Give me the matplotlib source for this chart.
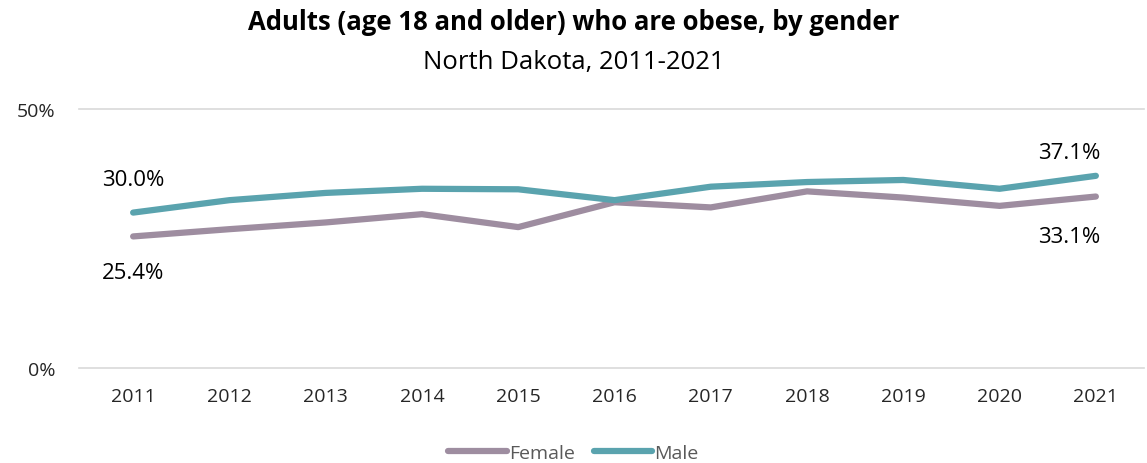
import matplotlib.pyplot as plt

years = ['2011', '2012', '2013', '2014', '2015', '2016', '2017', '2018', '2019', '2020', '2021']
female = [25.4, 26.8, 28.1, 29.7, 27.2, 32.0, 31.0, 34.1, 32.9, 31.3, 33.1]
male = [30.0, 32.4, 33.8, 34.6, 34.5, 32.4, 35.0, 35.9, 36.3, 34.6, 37.1]

col_f = '#9E8DA0'
col_m = '#5AA3AE'

plt.rcParams['font.family'] = ['Open Sans', 'DejaVu Sans']

fig = plt.figure(figsize=(11.47, 4.64), dpi=100)
ax = fig.add_axes([85 / 1147, 1 - 369 / 464, (1144 - 85) / 1147, (369 - 110) / 464])

x = list(range(len(years)))
ax.plot(x, female, color=col_f, lw=4.5, solid_capstyle='round', label='Female')
ax.plot(x, male, color=col_m, lw=4.5, solid_capstyle='round', label='Male')

ax.set_xlim(-0.5, len(years) - 0.5)
ax.set_ylim(0, 50)
ax.set_yticks([0, 50])
ax.set_yticklabels(['0%', '50%'])
ax.set_xticks(x)
ax.set_xticklabels(years)
ax.tick_params(length=0, labelsize=14, colors='#262626')
ax.tick_params(axis='x', pad=14)
ax.tick_params(axis='y', pad=21)
# gridlines a bit wider than the plot area, like the original
for v in [0, 50]:
    ax.axhline(v, xmin=-0.006, xmax=1.0, color='#D9D9D9', lw=1.2, clip_on=False, zorder=0)
for s in ax.spines.values():
    s.set_visible(False)

# data labels for first and last year
lbl = dict(textcoords='offset points', ha='center', va='center', fontsize=16)
ax.annotate(f'{male[0]:.1f}%', (0, male[0]), xytext=(0, 24), **lbl)
ax.annotate(f'{female[0]:.1f}%', (0, female[0]), xytext=(0, -26), **lbl)
ax.annotate(f'{male[-1]:.1f}%', (10, male[-1]), xytext=(-19, 17), **lbl)
ax.annotate(f'{female[-1]:.1f}%', (10, female[-1]), xytext=(-19, -29), **lbl)

fig.text(0.5, 1 - 22 / 464, 'Adults (age 18 and older) who are obese, by gender',
         ha='center', va='center', fontsize=18.5, fontweight='bold')
fig.text(0.5, 1 - 62 / 464, 'North Dakota, 2011-2021', ha='center', va='center', fontsize=18.5)

leg = fig.legend(loc='center', bbox_to_anchor=(0.5, 1 - 454 / 464), ncol=2, frameon=False,
                 fontsize=14, handlelength=3.0, handletextpad=0.1, columnspacing=1.0)
for t in leg.get_texts():
    t.set_color('#595959')

fig.savefig('out.png', dpi=100)
